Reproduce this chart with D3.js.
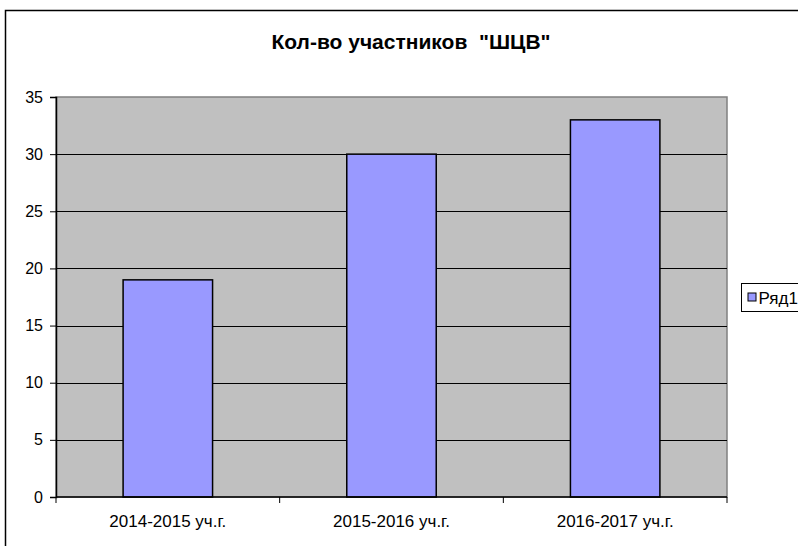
<!DOCTYPE html>
<html>
<head>
<meta charset="utf-8">
<script src="https://cdn.jsdelivr.net/npm/d3@7"></script>
<style>
  body { margin: 0; background: #fff; }
  text { font-family: Arial, "Liberation Sans", sans-serif; }
</style>
</head>
<body>
<div id="chart-area"></div>
<script>
// data
const categories = ["2014-2015 уч.г.", "2015-2016 уч.г.", "2016-2017 уч.г."]
const values = [19, 30, 33]
const yTicks = [0, 5, 10, 15, 20, 25, 30, 35]
const seriesName = "Ряд1"
const title = "Кол-во участников  \"ШЦВ\""

var cw = 798
var ch = 546
var m = {l: 56, t: 97, r: 71, b: 49}
var w = cw - m.l - m.r
var h = ch - m.t - m.b

var svg = d3.select("#chart-area").append("svg")
    .attr("width", cw)
    .attr("height", ch)

// outer chart frame (runs past the window on right and bottom)
svg.append("rect")
    .attr("x", 5.5).attr("y", 10.5)
    .attr("width", 820).attr("height", 560)
    .attr("fill", "#fff")
    .attr("stroke", "#000")
    .attr("stroke-width", 1.5)

svg.append("text")
    .attr("x", 411)
    .attr("y", 49)
    .attr("text-anchor", "middle")
    .attr("font-size", "21px")
    .attr("font-weight", "bold")
    .style("white-space", "pre")
    .text(title)

var g = svg.append("g").attr("transform", "translate(" + m.l + ", " + m.t + ")")

var x = d3.scaleBand()
    .domain(categories)
    .range([0, w])
    .paddingInner(0.6)
    .paddingOuter(0.3)

var y = d3.scaleLinear()
    .domain([0, 35])
    .range([h, 0])

// plot area
g.append("rect")
    .attr("x", 0).attr("y", 0)
    .attr("width", w).attr("height", h)
    .attr("fill", "#c0c0c0")
    .attr("stroke", "#808080")
    .attr("stroke-width", 1.5)

// gridlines
g.selectAll(".grid")
    .data(yTicks.filter(d => d > 0 && d < 35))
    .enter()
    .append("line")
    .attr("class", "grid")
    .attr("x1", 0).attr("x2", w)
    .attr("y1", d => Math.round(y(d)) + 0.5)
    .attr("y2", d => Math.round(y(d)) + 0.5)
    .attr("stroke", "#000")
    .attr("stroke-width", 1)

// bars
g.selectAll(".bar")
    .data(values)
    .enter()
    .append("rect")
    .attr("class", "bar")
    .attr("x", (d, i) => x(categories[i]))
    .attr("y", d => y(d))
    .attr("width", x.bandwidth())
    .attr("height", d => h - y(d))
    .attr("fill", "#9999ff")
    .attr("stroke", "#000")
    .attr("stroke-width", 1.5)

// y axis
var leftAxis = d3.axisLeft(y)
    .tickValues(yTicks)
    .tickSize(6)
    .tickPadding(7)

var yAxisGroup = g.append("g")
    .attr("class", "left axis")
    .call(leftAxis)
yAxisGroup.select(".domain").attr("stroke", "#000").attr("stroke-width", 1.5)
yAxisGroup.selectAll("line").attr("stroke", "#000")
yAxisGroup.selectAll("text")
    .attr("font-size", "16px")
    .attr("font-family", "Arial, 'Liberation Sans', sans-serif")
    .attr("fill", "#000")

// x axis: ticks at category boundaries
var xAxisGroup = g.append("g")
    .attr("class", "bottom axis")
    .attr("transform", "translate(0, " + h + ")")

xAxisGroup.append("line")
    .attr("x1", 0).attr("x2", w)
    .attr("stroke", "#000")
    .attr("stroke-width", 1.5)

var boundaries = categories.map((c, i) => i * x.step())
boundaries.push(w)

xAxisGroup.selectAll(".xtick")
    .data(boundaries)
    .enter()
    .append("line")
    .attr("class", "xtick")
    .attr("x1", d => d).attr("x2", d => d)
    .attr("y1", 0).attr("y2", 6)
    .attr("stroke", "#000")

xAxisGroup.selectAll(".xlabel")
    .data(categories)
    .enter()
    .append("text")
    .attr("class", "xlabel")
    .attr("x", d => x(d) + x.bandwidth() / 2)
    .attr("y", 30)
    .attr("text-anchor", "middle")
    .attr("font-size", "17px")
    .text(d => d)

// legend
var legend = svg.append("g")
    .attr("transform", "translate(741.5, 283.5)")

legend.append("rect")
    .attr("width", 80).attr("height", 28)
    .attr("fill", "#fff")
    .attr("stroke", "#000")
    .attr("stroke-width", 1)

legend.append("rect")
    .attr("x", 6.5).attr("y", 9.5)
    .attr("width", 8).attr("height", 8)
    .attr("fill", "#9999ff")
    .attr("stroke", "#000")
    .attr("stroke-width", 1)

legend.append("text")
    .attr("x", 17)
    .attr("y", 20)
    .attr("font-size", "17px")
    .text(seriesName)
</script>
</body>
</html>
